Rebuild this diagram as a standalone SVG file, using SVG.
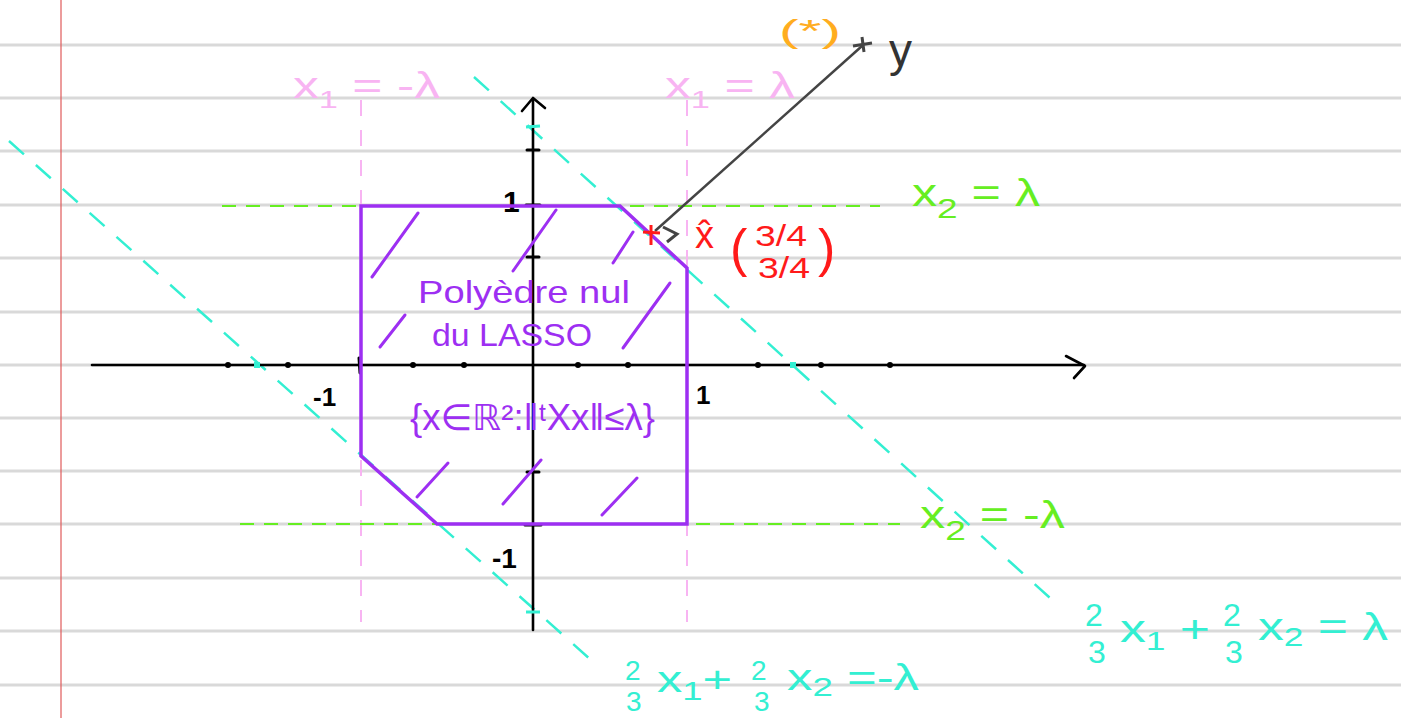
<svg xmlns="http://www.w3.org/2000/svg" width="1401" height="718" viewBox="0 0 1401 718">
<style>
text{font-family:"Liberation Sans","DejaVu Sans",sans-serif}
.rule{stroke:#d9d9d9;stroke-width:3}
.axis{stroke:#000;stroke-width:2.6;fill:none;stroke-linecap:round;stroke-linejoin:round}
.tick{stroke:#000;stroke-width:3;stroke-linecap:round}
.pink{stroke:#f8b4f2;stroke-width:2;stroke-dasharray:16 14;fill:none}
.green{stroke:#66ee22;stroke-width:2;stroke-dasharray:14 10;fill:none}
.cyan{stroke:#33efd2;stroke-width:2.5;stroke-dasharray:20 16;fill:none}
.poly{stroke:#9d2ff2;stroke-width:3.5;fill:none;stroke-linejoin:miter}
.hatch{stroke:#9d2ff2;stroke-width:3;stroke-linecap:round}
.tp{fill:#9d2ff2}
.tk{fill:#000;font-weight:bold}
.tpink{fill:#f8b4f2}
.tgreen{fill:#66ee22}
.tcyan{fill:#33efd2}
.tred{fill:#ff1a1a}
</style>
<rect width="1401" height="718" fill="#fff"/>
<g id="paper">
<line class="rule" x1="0" y1="45" x2="1401" y2="45"/>
<line class="rule" x1="0" y1="98" x2="1401" y2="98"/>
<line class="rule" x1="0" y1="151" x2="1401" y2="151"/>
<line class="rule" x1="0" y1="205" x2="1401" y2="205"/>
<line class="rule" x1="0" y1="258" x2="1401" y2="258"/>
<line class="rule" x1="0" y1="312" x2="1401" y2="312"/>
<line class="rule" x1="0" y1="365" x2="1401" y2="365"/>
<line class="rule" x1="0" y1="418" x2="1401" y2="418"/>
<line class="rule" x1="0" y1="471" x2="1401" y2="471"/>
<line class="rule" x1="0" y1="524" x2="1401" y2="524"/>
<line class="rule" x1="0" y1="578" x2="1401" y2="578"/>
<line class="rule" x1="0" y1="631" x2="1401" y2="631"/>
<line class="rule" x1="0" y1="685" x2="1401" y2="685"/>
<line x1="61" y1="0" x2="61" y2="718" stroke="#e05a5a" stroke-width="1.2"/>
</g>
<g id="guides">
<line class="pink" x1="361" y1="100" x2="361" y2="622"/>
<line class="pink" x1="687" y1="100" x2="687" y2="622"/>
<line class="green" x1="222" y1="206" x2="880" y2="206"/>
<line class="green" x1="240" y1="524" x2="900" y2="524"/>
<line class="cyan" x1="9" y1="141" x2="600" y2="668"/>
<line class="cyan" x1="474" y1="77" x2="1050" y2="598"/>
</g>
<g id="axes">
<line class="axis" x1="92" y1="365" x2="1084" y2="365"/>
<polyline class="axis" stroke-width="3.5" points="1066,356 1085,366 1074,378"/>
<line class="axis" x1="533" y1="99" x2="533" y2="630"/>
<polyline class="axis" stroke-width="3.5" points="522,111 533,98 545,108"/>
<g fill="#000">
<circle cx="228" cy="365" r="3"/><circle cx="288" cy="365" r="3"/><circle cx="413" cy="365" r="3"/><circle cx="464" cy="365" r="3"/>
<circle cx="578" cy="365" r="3"/><circle cx="628" cy="365" r="3"/><circle cx="758" cy="365" r="3"/><circle cx="821" cy="365" r="3"/><circle cx="890" cy="365" r="3"/>
</g>
<line class="tick" x1="359" y1="358" x2="360" y2="373"/>
<line class="tick" x1="527" y1="150" x2="539" y2="150"/>
<line class="tick" x1="526" y1="205" x2="540" y2="205"/>
<line class="tick" x1="527" y1="257" x2="539" y2="257"/>
<line class="tick" x1="527" y1="472" x2="539" y2="472"/>
<line class="tick" x1="525" y1="525" x2="541" y2="525"/>
<line stroke="#33efd2" stroke-width="3" x1="526" y1="127" x2="540" y2="126"/>
<line stroke="#33efd2" stroke-width="3" x1="526" y1="612" x2="540" y2="612"/>
<rect x="254" y="362" width="6" height="6" fill="#33efd2"/>
<rect x="790" y="362" width="6" height="6" fill="#33efd2"/>
<text class="tk" x="503" y="212" font-size="30">1</text>
<text class="tk" x="492" y="568" font-size="28">-1</text>
<text class="tk" x="313" y="406" font-size="26">-1</text>
<text class="tk" x="696" y="404" font-size="26">1</text>
</g>
<g id="polyhedron">
<polygon class="poly" points="361,206 620,206 687,268 687,524 437,524 361,456"/>
<line class="hatch" x1="372" y1="277" x2="418" y2="213"/>
<line class="hatch" x1="513" y1="271" x2="556" y2="210"/>
<line class="hatch" x1="613" y1="263" x2="633" y2="232"/>
<line class="hatch" x1="380" y1="347" x2="405" y2="315"/>
<line class="hatch" x1="623" y1="348" x2="670" y2="283"/>
<line class="hatch" x1="417" y1="497" x2="448" y2="463"/>
<line class="hatch" stroke-width="2" x1="503" y1="504" x2="541" y2="460"/>
<line class="hatch" x1="602" y1="515" x2="637" y2="478"/>
<text class="tp" x="418" y="303" font-size="32" textLength="212" lengthAdjust="spacingAndGlyphs">Polyèdre nul</text>
<text class="tp" x="432" y="346" font-size="32" textLength="160" lengthAdjust="spacingAndGlyphs">du LASSO</text>
<text class="tp" x="410" y="430" font-size="36" textLength="245" lengthAdjust="spacingAndGlyphs">{x∈ℝ²:‖ᵗXx‖≤λ}</text>
</g>
<g id="label-x1-neg">
<text class="tpink" x="293" y="98" font-size="36" textLength="147" lengthAdjust="spacingAndGlyphs">x<tspan font-size="24" dy="10">1</tspan><tspan dy="-10"> = -λ</tspan></text>
</g>
<g id="label-x1-pos">
<text class="tpink" x="665" y="98" font-size="36" textLength="130" lengthAdjust="spacingAndGlyphs">x<tspan font-size="24" dy="10">1</tspan><tspan dy="-10"> = λ</tspan></text>
</g>
<g id="label-x2-pos">
<text class="tgreen" x="912" y="206" font-size="38" textLength="128" lengthAdjust="spacingAndGlyphs">x<tspan font-size="28" dy="12">2</tspan><tspan dy="-12"> = λ</tspan></text>
</g>
<g id="label-x2-neg">
<text class="tgreen" x="920" y="528" font-size="38" textLength="145" lengthAdjust="spacingAndGlyphs">x<tspan font-size="28" dy="12">2</tspan><tspan dy="-12"> = -λ</tspan></text>
</g>
<g id="label-cyan-pos">
<text class="tcyan" x="1085" y="626" font-size="32">2</text>
<text class="tcyan" x="1088" y="663" font-size="32">3</text>
<text class="tcyan" x="1120" y="642" font-size="38" textLength="90" lengthAdjust="spacingAndGlyphs">x<tspan font-size="26" dy="8">1</tspan><tspan dy="-8"> +</tspan></text>
<text class="tcyan" x="1223" y="626" font-size="32">2</text>
<text class="tcyan" x="1225" y="663" font-size="32">3</text>
<text class="tcyan" x="1258" y="640" font-size="38" textLength="130" lengthAdjust="spacingAndGlyphs">x<tspan font-size="26" dy="6">2</tspan><tspan dy="-6"> = λ</tspan></text>
</g>
<g id="label-cyan-neg">
<text class="tcyan" x="625" y="680" font-size="28">2</text>
<text class="tcyan" x="626" y="711" font-size="28">3</text>
<text class="tcyan" x="657" y="692" font-size="36" textLength="75" lengthAdjust="spacingAndGlyphs">x<tspan font-size="26" dy="8">1</tspan><tspan dy="-8">+</tspan></text>
<text class="tcyan" x="751" y="680" font-size="28">2</text>
<text class="tcyan" x="754" y="711" font-size="28">3</text>
<text class="tcyan" x="787" y="690" font-size="36" textLength="132" lengthAdjust="spacingAndGlyphs">x<tspan font-size="26" dy="6">2</tspan><tspan dy="-6"> =-λ</tspan></text>
</g>
<g id="connectors">
<line x1="655" y1="231" x2="862" y2="46" stroke="#444" stroke-width="2.5"/>
<polyline points="663,227 677,234 667,242" fill="none" stroke="#444" stroke-width="3"/>
</g>
<g id="point-y">
<line x1="853" y1="46" x2="872" y2="43" stroke="#444" stroke-width="3"/>
<line x1="862" y1="37" x2="864" y2="52" stroke="#444" stroke-width="3"/>
<text x="889" y="66" font-size="46" fill="#333">y</text>
<text x="779" y="42" font-size="32" fill="#ffad1f" textLength="62" lengthAdjust="spacingAndGlyphs">(*)</text>
</g>
<g id="point-xhat">
<line x1="643" y1="232" x2="660" y2="233" stroke="#ff1a1a" stroke-width="3"/>
<line x1="651" y1="225" x2="651" y2="245" stroke="#ff1a1a" stroke-width="3"/>
<text class="tred" x="695" y="248" font-size="38">x̂</text>
<text class="tred" x="730" y="266" font-size="52" font-weight="200">(</text>
<text class="tred" x="755" y="246" font-size="30" textLength="52" lengthAdjust="spacingAndGlyphs">3/4</text>
<text class="tred" x="758" y="278" font-size="30" textLength="52" lengthAdjust="spacingAndGlyphs">3/4</text>
<text class="tred" x="818" y="266" font-size="52" font-weight="200">)</text>
</g>
</svg>
